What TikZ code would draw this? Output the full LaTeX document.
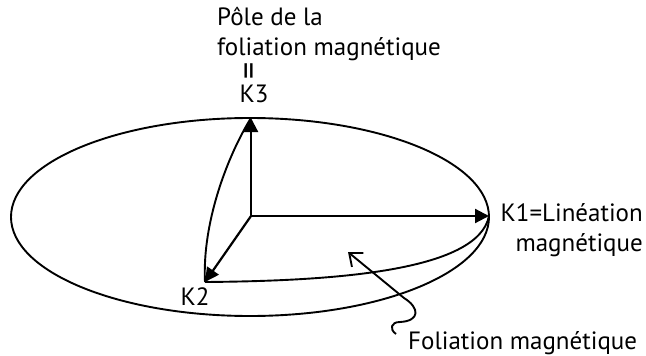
\documentclass[tikz,border=0pt]{standalone}
\usepackage{fontspec}
\setmainfont{PT Sans}
\usetikzlibrary{arrows.meta,positioning}

\begin{document}
\begin{tikzpicture}[x=1pt,y=-1pt,every node/.style={font=\fontsize{25}{30}\selectfont,inner sep=0pt},
  axis/.style={line width=2.2pt,-{Triangle[length=14pt,width=14pt]}},
  outline/.style={line width=1.9pt}]
\useasboundingbox (0,0) rectangle (646,356);

% Ellipsoid
\coordinate (centre) at (250,217);
\draw[outline] (centre) ellipse [x radius=239, y radius=99];

% Axes
\coordinate (O) at (251,216);
\coordinate (k1tip) at (489,216);
\coordinate (k2tip) at (205,282);
\coordinate (k3tip) at (251,118);
\draw[axis] (O) -- (k3tip);
\draw[axis] (O) -- (k1tip);
\draw[axis] (O) -- (k2tip);

% Sections through the ellipsoid
\draw[outline] (k3tip) .. controls (228,155) and (202,222) .. (k2tip);
\draw[outline] (k2tip) .. controls (330,281) and (478,272) .. (k1tip);

% Labels
\node[anchor=base] (k3) at (254,102) {K3};
\node[rotate=90,font=\fontsize{34}{34}\selectfont] (eq) at (253,71) {=};
\node[anchor=north west,align=left] (pole) at (217,7) {Pôle de la\\foliation magnétique};
\node[anchor=north east,align=right] (k1) at (643,203) {K1=Linéation\\magnétique};
\node[anchor=base] (k2) at (195,305) {K2};
\node[anchor=base west] (foliation) at (408,349) {Foliation magnétique};

% Pointer to the foliation plane
\coordinate (foltail) at (396,334);
\coordinate (folpoint) at (348,252);
\draw[outline,-{Straight Barb[length=11pt,width=18pt]}] (foltail) .. controls (389,329) and (391,322) .. (400,322)
  .. controls (420,321) and (420,308) .. (404,298) -- (folpoint);

\end{tikzpicture}
\end{document}
